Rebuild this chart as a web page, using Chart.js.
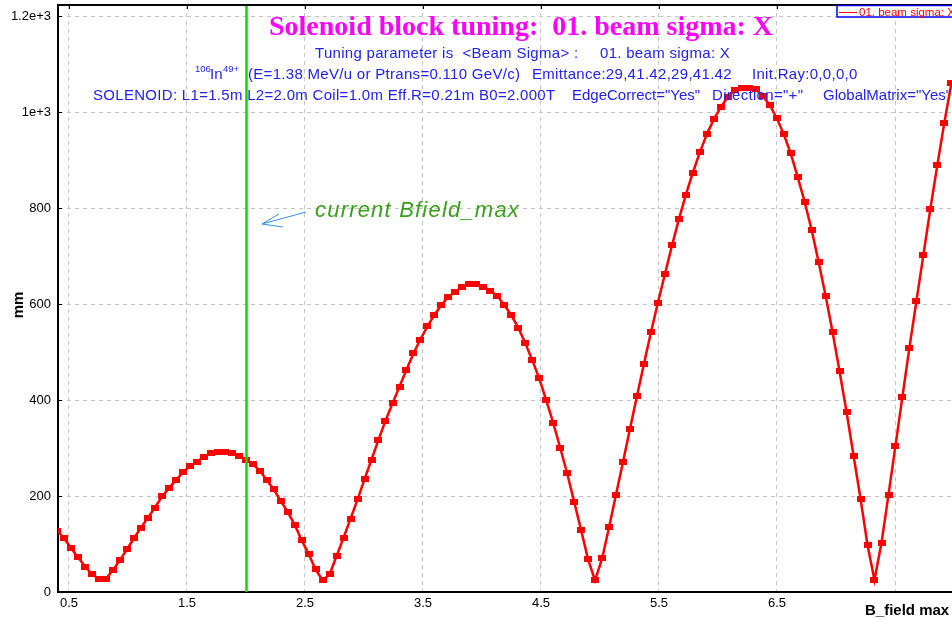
<!DOCTYPE html>
<html>
<head>
<meta charset="utf-8">
<title>Solenoid block tuning</title>
<script src="https://cdn.jsdelivr.net/npm/chart.js@4.4.1/dist/chart.umd.min.js"></script>
<style>
  html, body { margin: 0; padding: 0; background: #ffffff; }
  #wrap { width: 952px; height: 619px; position: relative; }
</style>
</head>
<body>
<div id="wrap"><canvas id="c" width="952" height="619"></canvas></div>
<script>
// Scan of the solenoid maximum field (T) against the resulting horizontal beam sigma (mm)
const bField = [
  0.400, 0.459, 0.518, 0.578, 0.637, 0.696, 0.755, 0.814, 0.874, 0.933,
  0.992, 1.051, 1.110, 1.170, 1.229, 1.288, 1.347, 1.406, 1.466, 1.525,
  1.584, 1.643, 1.702, 1.762, 1.821, 1.880, 1.939, 1.998, 2.058, 2.117,
  2.176, 2.235, 2.294, 2.354, 2.413, 2.472, 2.531, 2.590, 2.650, 2.709,
  2.768, 2.827, 2.886, 2.946, 3.005, 3.064, 3.123, 3.182, 3.242, 3.301,
  3.360, 3.419, 3.478, 3.538, 3.597, 3.656, 3.715, 3.774, 3.834, 3.893,
  3.952, 4.011, 4.070, 4.130, 4.189, 4.248, 4.307, 4.366, 4.426, 4.485,
  4.544, 4.603, 4.662, 4.722, 4.781, 4.840, 4.899, 4.958, 5.018, 5.077,
  5.136, 5.195, 5.254, 5.314, 5.373, 5.432, 5.491, 5.550, 5.610, 5.669,
  5.728, 5.787, 5.846, 5.906, 5.965, 6.024, 6.083, 6.142, 6.202, 6.261,
  6.320, 6.379, 6.438, 6.498, 6.557, 6.616, 6.675, 6.734, 6.794, 6.853,
  6.912, 6.971, 7.030, 7.090, 7.149, 7.208, 7.267, 7.326, 7.386, 7.445,
  7.504, 7.563, 7.622, 7.682, 7.741, 7.800, 7.859, 7.918, 7.978
];
const sigmaX = [
  128, 112,  91,  72,  53,  37,  27,  28,  46,  67,
   89, 112, 134, 155, 176, 199, 216, 233, 249, 262,
  271, 282, 289, 292, 292, 289, 283, 276, 266, 253,
  233, 214, 190, 167, 140, 108,  79,  47,  24,  37,
   75, 113, 153, 193, 235, 276, 317, 357, 393, 428,
  463, 497, 526, 554, 577, 598, 615, 626, 636, 642,
  642, 636, 628, 617, 598, 577, 551, 519, 483, 445,
  400, 353, 301, 247, 188, 129,  68,  24,  70, 135,
  203, 271, 340, 409, 476, 541, 603, 662, 722, 777,
  828, 874, 916, 954, 985, 1010, 1031, 1046, 1051, 1051,
  1047, 1033, 1015, 987, 954, 914, 865, 813, 754, 687,
  617, 541, 460, 374, 284, 194,  98,  25, 103, 203,
  305, 407, 509, 607, 703, 799, 890, 978, 1060
];

const xTickValues = [0.5, 1.5, 2.5, 3.5, 4.5, 5.5, 6.5, 7.5];
const xTickLabels = ['0.5', '1.5', '2.5', '3.5', '4.5', '5.5', '6.5', ''];
const yTickValues = [0, 200, 400, 600, 800, 1000, 1200];
const yTickLabels = ['0', '200', '400', '600', '800', '1e+3', '1.2e+3'];

const currentBfieldMax = 2.0;
const seriesName = '01. beam sigma: X';
const titleText = 'Solenoid block tuning:  01. beam sigma: X';
const xAxisTitle = 'B_field max';
const yAxisTitle = 'mm';
const markerText = 'current Bfield_max';

// small filled rectangle used as the point marker
const marker = document.createElement('canvas');
marker.width = 8; marker.height = 6;
(function () {
  const m = marker.getContext('2d');
  m.fillStyle = '#ff0000';
  m.fillRect(0, 0, 8, 6);
})();

const SANS = '"Liberation Sans", Arial, sans-serif';
const SERIF = '"Liberation Serif", "Times New Roman", serif';
const BLUE = '#2222ee';

// keep the plot frame fixed: no extra room for edge tick labels
function noEdgePadding(scale) {
  scale.paddingTop = 0;
  scale.paddingBottom = 0;
  scale.paddingLeft = 0;
  scale.paddingRight = 0;
}

const decorations = {
  id: 'decorations',
  afterDatasetsDraw(chart) {
    const { ctx, chartArea: a, scales: { x, y } } = chart;
    ctx.save();

    // vertical marker of the present field setting
    const gx = Math.round(x.getPixelForValue(currentBfieldMax)) + 0.5;
    ctx.strokeStyle = '#00dd00';
    ctx.lineWidth = 2.5;
    ctx.beginPath(); ctx.moveTo(gx, a.top); ctx.lineTo(gx, a.bottom); ctx.stroke();

    // top frame line
    ctx.strokeStyle = '#000000';
    ctx.lineWidth = 2;
    ctx.beginPath(); ctx.moveTo(a.left - 1, a.top); ctx.lineTo(a.right, a.top); ctx.stroke();

    // inward tick marks
    ctx.lineWidth = 1;
    xTickValues.forEach(v => {
      const px = Math.round(x.getPixelForValue(v)) + 0.5;
      ctx.beginPath(); ctx.moveTo(px, a.top); ctx.lineTo(px, a.top + 4); ctx.stroke();
    });
    yTickValues.forEach(v => {
      const py = Math.round(y.getPixelForValue(v)) + 0.5;
      ctx.beginPath(); ctx.moveTo(a.left, py); ctx.lineTo(a.left + 4, py); ctx.stroke();
    });

    // title block
    ctx.textAlign = 'left';
    ctx.textBaseline = 'alphabetic';
    ctx.fillStyle = '#ff00ff';
    ctx.font = 'bold 28px ' + SERIF;
    ctx.fillText(titleText, 269, 35);

    ctx.fillStyle = BLUE;
    ctx.letterSpacing = '0.3px';
    ctx.font = '15px ' + SANS;
    ctx.fillText('Tuning parameter is  <Beam Sigma> :', 315, 58);
    ctx.fillText('01. beam sigma: X', 600, 58);

    ctx.letterSpacing = '0px';
    ctx.font = '9.5px ' + SANS;
    ctx.fillText('106', 195, 72);
    ctx.font = '15px ' + SANS;
    ctx.fillText('In', 210, 79);
    ctx.font = '9.5px ' + SANS;
    ctx.fillText('49+', 223, 72);
    ctx.letterSpacing = '0.3px';
    ctx.font = '15px ' + SANS;
    ctx.fillText('(E=1.38 MeV/u or Ptrans=0.110 GeV/c)', 248, 79);
    ctx.fillText('Emittance:29,41.42,29,41.42', 532, 79);
    ctx.fillText('Init.Ray:0,0,0,0', 752, 79);

    ctx.fillText('SOLENOID: L1=1.5m L2=2.0m Coil=1.0m Eff.R=0.21m B0=2.000T', 93, 100);
    ctx.letterSpacing = '0px';
    ctx.fillText('EdgeCorrect="Yes"', 572, 100);
    ctx.letterSpacing = '0.3px';
    ctx.fillText('Direction="+"', 712, 100);
    ctx.letterSpacing = '0px';
    ctx.fillText('GlobalMatrix="Yes"', 823, 100);

    // annotation with arrow towards the field marker
    ctx.fillStyle = '#3a9f1c';
    ctx.font = 'italic 22px ' + SANS;
    ctx.letterSpacing = '1.2px';
    ctx.fillText(markerText, 315, 217);
    ctx.letterSpacing = '0px';

    ctx.strokeStyle = '#3b8fe0';
    ctx.lineWidth = 1;
    ctx.beginPath();
    ctx.moveTo(306, 212); ctx.lineTo(262, 224);
    ctx.moveTo(262, 224); ctx.lineTo(279, 214);
    ctx.moveTo(262, 224); ctx.lineTo(283, 227);
    ctx.stroke();

    // axis titles
    ctx.fillStyle = '#000000';
    ctx.font = 'bold 15px ' + SANS;
    ctx.fillText(xAxisTitle, 865, 615);
    ctx.save();
    ctx.translate(23, 305);
    ctx.rotate(-Math.PI / 2);
    ctx.textAlign = 'center';
    ctx.fillText(yAxisTitle, 0, 0);
    ctx.restore();

    // legend box
    ctx.fillStyle = '#ffffff';
    ctx.fillRect(837, 6, 130, 11);
    ctx.strokeStyle = '#0000ff';
    ctx.lineWidth = 1.5;
    ctx.strokeRect(837, 5.5, 130, 11.5);
    ctx.strokeStyle = '#ff0000';
    ctx.lineWidth = 1;
    ctx.beginPath(); ctx.moveTo(839, 12.5); ctx.lineTo(857, 12.5); ctx.stroke();
    ctx.fillStyle = '#ff0000';
    ctx.font = '11.5px ' + SANS;
    ctx.fillText(seriesName, 859, 16);

    ctx.restore();
  }
};

new Chart(document.getElementById('c'), {
  type: 'line',
  data: {
    datasets: [{
      label: seriesName,
      data: bField.map((b, i) => ({ x: b, y: sigmaX[i] })),
      borderColor: '#ff0000',
      borderWidth: 2.5,
      backgroundColor: '#ff0000',
      pointStyle: marker,
      pointRadius: 4,
      pointHoverRadius: 4,
      tension: 0,
      fill: false,
      clip: 0
    }]
  },
  options: {
    responsive: false,
    animation: false,
    devicePixelRatio: 1,
    layout: { autoPadding: false, padding: { top: 5, left: 0, right: 0, bottom: 0 } },
    plugins: {
      legend: { display: false },
      title: { display: false },
      tooltip: { enabled: false }
    },
    events: [],
    scales: {
      x: {
        type: 'linear',
        min: 0.407,
        max: 7.983,
        afterBuildTicks(scale) { scale.ticks = xTickValues.map(v => ({ value: v })); },
        afterFit(scale) { scale.height = 27; noEdgePadding(scale); },
        ticks: {
          autoSkip: false,
          maxRotation: 0,
          padding: 4,
          color: '#000000',
          font: { family: SANS, size: 13 },
          callback: (v, i) => xTickLabels[i]
        },
        grid: { color: '#c4c4c4', lineWidth: 1, drawTicks: false },
        border: { display: true, color: '#000000', width: 2, dash: [4, 4] }
      },
      y: {
        type: 'linear',
        min: 0,
        max: 1223,
        afterBuildTicks(scale) { scale.ticks = yTickValues.map(v => ({ value: v })); },
        afterFit(scale) { scale.width = 58; noEdgePadding(scale); },
        ticks: {
          autoSkip: false,
          padding: 7,
          color: '#000000',
          font: { family: SANS, size: 13 },
          callback: (v, i) => yTickLabels[i]
        },
        grid: { color: '#c4c4c4', lineWidth: 1, drawTicks: false },
        border: { display: true, color: '#000000', width: 2, dash: [4, 4] }
      }
    }
  },
  plugins: [decorations]
});
</script>
</body>
</html>
